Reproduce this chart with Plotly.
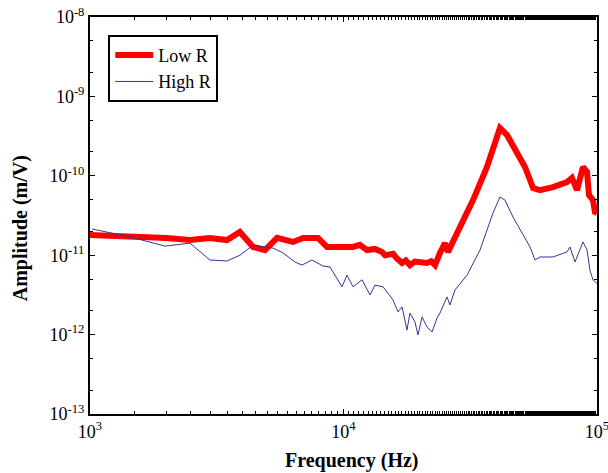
import plotly.graph_objects as go

low_f = [1000, 1500, 2000, 2480, 2970, 3470, 3900, 4400, 4900, 5470, 6320, 6930, 7930, 8610,
         9690, 10900, 11600, 12380, 13300, 14190, 14590, 15680, 16300, 17020, 17600, 18290, 19100,
         20040, 21350, 22200, 22970, 24030, 25140, 25840, 28040, 32440, 36810, 41410, 44140,
         48340, 51990, 54430, 55940, 59600, 67010, 76170, 79660, 83380, 88060, 91330, 92980,
         96400, 98150, 100000]
low_a = [1.8e-11, 1.75e-11, 1.65e-11, 1.55e-11, 1.65e-11, 1.55e-11, 1.96e-11, 1.27e-11, 1.16e-11,
         1.65e-11, 1.47e-11, 1.65e-11, 1.65e-11, 1.27e-11, 1.27e-11, 1.27e-11, 1.35e-11, 1.16e-11,
         1.2e-11, 1.1e-11, 1.0e-11, 1.04e-11, 9.0e-12, 7.97e-12, 8.6e-12, 7.5e-12, 8.3e-12, 8.2e-12,
         7.97e-12, 8.4e-12, 7.5e-12, 1.07e-11, 1.42e-11, 1.1e-11, 1.9e-11, 4.95e-11, 1.29e-10,
         4.0e-10, 3.27e-10, 1.94e-10, 1.29e-10, 8.85e-11, 7.0e-11, 6.6e-11, 7.2e-11, 8.35e-11,
         9.4e-11, 6.6e-11, 1.29e-10, 1.12e-10, 5.7e-11, 4.95e-11, 3.5e-11, 3.4e-11]

high_f = [1018, 1439, 1977, 2479, 2973, 3467, 3905, 4396, 5270, 5771, 6440, 6860, 7510, 8300,
          8850, 9860, 10320, 10900, 11830, 12730, 13310, 14320, 15680, 16410, 17020, 17800, 18290,
          19140, 19670, 20410, 21350, 22350, 23390, 24030, 25610, 26300, 27530, 30710, 34550,
          38870, 41410, 43330, 46610, 50560, 54430, 56930, 59600, 67010, 76170, 78230, 81880,
          88060, 91330, 93770, 96400, 100000]
high_a = [2.14e-11, 1.7e-11, 1.3e-11, 1.42e-11, 8.7e-12, 8.45e-12, 1.0e-11, 1.34e-11, 1.23e-11,
          1.07e-11, 8.2e-12, 7.5e-12, 8.7e-12, 7.3e-12, 7.1e-12, 4.0e-12, 5.6e-12, 4.0e-12,
          4.9e-12, 3.15e-12, 4.2e-12, 4.0e-12, 2.73e-12, 1.93e-12, 2.23e-12, 1.14e-12, 1.87e-12,
          1.44e-12, 9.9e-13, 1.67e-12, 1.25e-12, 1.08e-12, 1.62e-12, 1.87e-12, 2.98e-12, 2.36e-12,
          3.65e-12, 5.6e-12, 1.16e-11, 3.4e-11, 5.4e-11, 4.95e-11, 3.03e-11, 1.96e-11, 1.27e-11,
          8.7e-12, 9.5e-12, 9.5e-12, 1.1e-11, 1.27e-11, 8.2e-12, 1.47e-11, 1.16e-11, 6.5e-12,
          4.9e-12, 4.4e-12]

x_tickvals = [1e3, 1e4, 1e5]
x_ticktext = ["10<sup>3</sup>", "10<sup>4</sup>", "10<sup>5</sup>"]
y_tickvals = [1e-13, 1e-12, 1e-11, 1e-10, 1e-9, 1e-8]
y_ticktext = ["10<sup>-13</sup>", "10<sup>-12</sup>", "10<sup>-11</sup>",
              "10<sup>-10</sup>", "10<sup>-9</sup>", "10<sup>-8</sup>"]

SERIF = "Liberation Serif"

fig = go.Figure()
fig.add_trace(go.Scatter(x=low_f, y=low_a, mode="lines", name="Low R",
                         line=dict(color="#ff0000", width=6)))
fig.add_trace(go.Scatter(x=high_f, y=high_a, mode="lines", name="High R",
                         line=dict(color="#34349a", width=1)))

axis_common = dict(showline=True, linecolor="black", linewidth=2, mirror="ticks",
                   ticks="inside", ticklen=5, tickcolor="black", showgrid=False,
                   zeroline=False, automargin=False, ticklabeloverflow="allow",
                   tickfont=dict(family=SERIF, size=18, color="black"))

fig.update_xaxes(type="log", range=[3, 5], tickvals=x_tickvals, ticktext=x_ticktext,
                 minor=dict(ticks="inside", ticklen=3, tickcolor="black"),
                 **axis_common)
fig.update_yaxes(type="log", range=[-13, -8], tickvals=y_tickvals, ticktext=y_ticktext,
                 minor=dict(ticks="inside", ticklen=3, tickcolor="black"),
                 **axis_common)

fig.add_annotation(text="<b>Frequency (Hz)</b>", xref="paper", yref="paper",
                   x=0.516, y=-0.116, xanchor="center", yanchor="middle",
                   showarrow=False, font=dict(family=SERIF, size=20, color="black"))
fig.add_annotation(text="<b>Amplitude (m/V)</b>", xref="paper", yref="paper",
                   x=-0.138, y=0.468, xanchor="center", yanchor="middle", textangle=-90,
                   showarrow=False, font=dict(family=SERIF, size=20, color="black"))

fig.update_layout(
    width=608, height=473,
    margin=dict(l=90, r=11, t=17, b=59),
    paper_bgcolor="white", plot_bgcolor="white",
    font=dict(family=SERIF, color="black"),
    legend=dict(x=0.036, y=0.955, xanchor="left", yanchor="top",
                bordercolor="black", borderwidth=2, bgcolor="white",
                font=dict(family=SERIF, size=18, color="black"),
                itemwidth=38, tracegroupgap=2),
    showlegend=True,
)

fig.write_html("out.html")
